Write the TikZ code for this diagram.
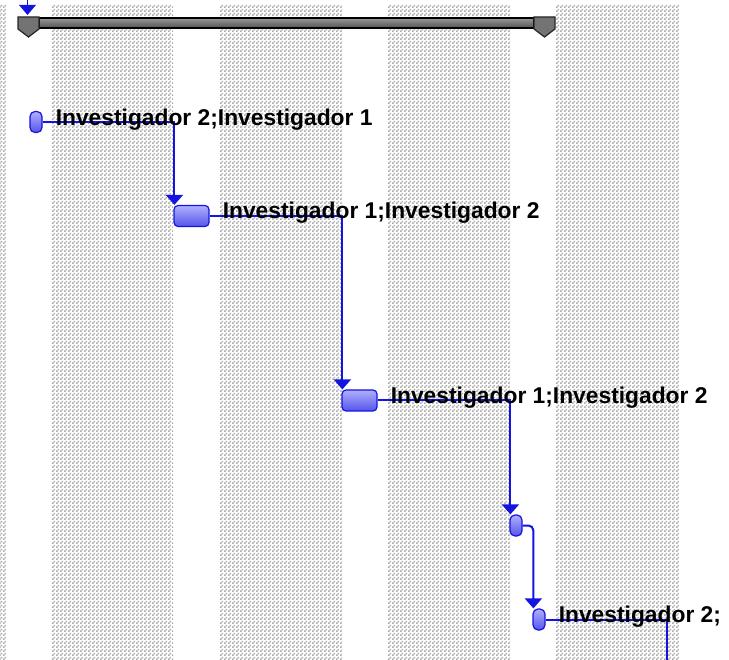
\documentclass[tikz,border=0pt]{standalone}
\usepackage{fontspec}
\setmainfont{Liberation Sans}
\usetikzlibrary{arrows.meta,positioning,patterns.meta}

\definecolor{linkblue}{RGB}{20,20,225}
\definecolor{barblue}{RGB}{85,85,235}
\definecolor{barlight}{RGB}{175,175,255}
\definecolor{dotgray}{RGB}{172,172,172}

\tikzdeclarepattern{
  name=stipple, type=uncolored,
  bounding box={(0pt,0pt) and (4pt,4pt)},
  tile size={(4pt,4pt)},
  code={
    \pgfpathrectangle{\pgfpoint{0pt}{0pt}}{\pgfpoint{2pt}{2pt}}
    \pgfpathrectangle{\pgfpoint{2pt}{2pt}}{\pgfpoint{2pt}{2pt}}
    \pgfusepath{fill}
  }
}

\begin{document}
\begin{tikzpicture}[
  x=1pt, y=-1pt,
  band/.style={pattern={stipple}, pattern color=dotgray},
  task/.style={draw=linkblue, line width=1.2pt, top color=barlight, bottom color=barblue, inner sep=0pt, rounded corners=4pt},
  pill/.style={task, minimum width=12pt, minimum height=21pt, rounded corners=5pt},
  wide/.style={task, minimum width=35pt, minimum height=21pt},
  lbl/.style={font=\fontsize{22.8}{26}\selectfont\bfseries, inner sep=0pt, anchor=base west},
  link/.style={draw=linkblue, line width=2pt},
  arrow/.style={link, -{Triangle[width=17pt,length=10pt]}},
  endcap/.style={fill=black!55, draw=black!85, line width=1.2pt}
]
\useasboundingbox (0,0) rectangle (729,660);

% timescale bands
\foreach \a/\b in {0/6, 51/173, 220/342, 388/510, 556/679}
  \fill[band] (\a,5) rectangle (\b,660);

% summary bar
\fill[top color=black!40, bottom color=black!68, draw=black, line width=1.2pt] (39,18) rectangle (534,28);
\filldraw[endcap] (18,17) -- (39,17) -- (39,29) -- (28.5,37) -- (18,29) -- cycle;
\filldraw[endcap] (534,17) -- (555,17) -- (555,29) -- (544.5,37) -- (534,29) -- cycle;
\draw[link, line width=1.5pt] (27.5,0) -- (27.5,6);
\fill[linkblue] (19,5) -- (36,5) -- (27.5,15) -- cycle;

% tasks
\node[pill] (t1) at (36,122) {};
\node[wide] (t2) at (191.5,216) {};
\node[wide] (t3) at (359.5,400.5) {};
\node[pill] (t4) at (516,525.5) {};
\node[pill] (t5) at (539,619.5) {};
\coordinate (next) at (667,661);

\draw[arrow] (t1.east) -| ([xshift=1pt]t2.north west);
\draw[arrow] (t2.east) -| ([xshift=1pt]t3.north west);
\draw[arrow] (t3.east) -| ([xshift=1pt]t4.north west);
\draw[arrow, rounded corners=5pt] (t4.east) -| ([xshift=1pt]t5.north west);
\draw[link] (t5.east) -| (next);

\node[lbl] (l1) at ([xshift=13pt,yshift=-3.5pt]t1.east) {Investigador 2;Investigador 1};
\node[lbl] (l2) at ([xshift=13pt,yshift=-3pt]t2.east) {Investigador 1;Investigador 2};
\node[lbl] (l3) at ([xshift=13pt,yshift=-3pt]t3.east) {Investigador 1;Investigador 2};
\node[lbl] (l5) at ([xshift=13pt,yshift=-3pt]t5.east) {Investigador 2;};
\end{tikzpicture}
\end{document}
